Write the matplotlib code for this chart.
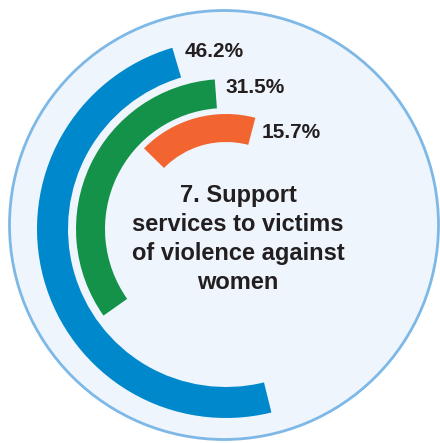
import matplotlib.pyplot as plt
from matplotlib.patches import Wedge, Circle

# data
values = [46.2, 31.5, 15.7]
labels = ["46.2%", "31.5%", "15.7%"]
colors = ["#0088cc", "#15924a", "#f26531"]
title_lines = ["7. Support", "services to victims", "of violence against", "women"]

# layout (pixel-ish coords, y up)
W, H = 440, 443
cx, cy = 226, H - 229
outer = [189, 150, 115]
width = [31, 29, 28]
start = [106.5, 94.3, 75.2]
deg_per_pct = 3.84
label_pos = [(185, 51), (225, 87.5), (262, 132)]

plt.rcParams['font.family'] = ['Liberation Sans', 'DejaVu Sans']

fig = plt.figure(figsize=(W / 100, H / 100), dpi=100)
ax = fig.add_axes([0, 0, 1, 1])
ax.set_xlim(0, W)
ax.set_ylim(0, H)
ax.set_aspect('equal')
ax.axis('off')

ax.add_patch(Circle((224, H - 225), 214.5, facecolor="#eff5fc",
                    edgecolor="#7db8e6", linewidth=2))

for v, c, r, w, s, lab, (lx, ly) in zip(values, colors, outer, width, start,
                                         labels, label_pos):
    ax.add_patch(Wedge((cx, cy), r, s, s + v * deg_per_pct, width=w,
                       facecolor=c, edgecolor='none'))
    ax.text(lx, H - ly, lab, ha='left', va='center', fontsize=15,
            fontweight='bold', color="#231f20")

for i, line in enumerate(title_lines):
    ax.text(238, H - (195 + 29.3 * i), line, ha='center', va='center',
            fontsize=17, fontweight='bold', color="#231f20")

fig.savefig("out.png", dpi=100)
